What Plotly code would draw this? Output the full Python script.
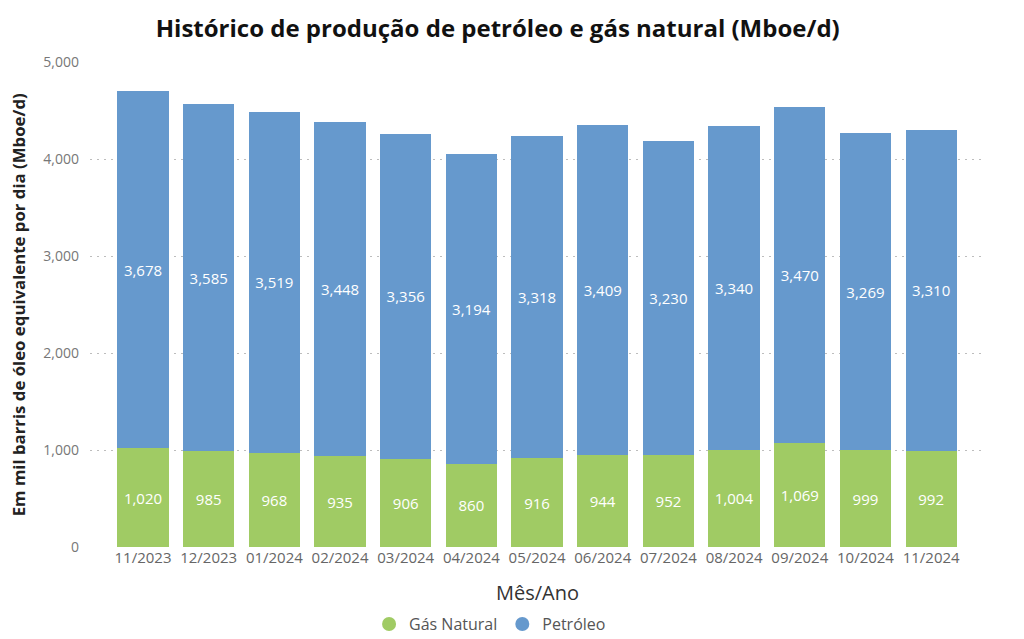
"""Histórico de produção de petróleo e gás natural (Mboe/d) — stacked bars."""
import plotly.graph_objects as go

meses = ["11/2023", "12/2023", "01/2024", "02/2024", "03/2024", "04/2024", "05/2024",
         "06/2024", "07/2024", "08/2024", "09/2024", "10/2024", "11/2024"]
gas_natural = [1020, 985, 968, 935, 906, 860, 916, 944, 952, 1004, 1069, 999, 992]
petroleo = [3678, 3585, 3519, 3448, 3356, 3194, 3318, 3409, 3230, 3340, 3470, 3269, 3310]
y_ticks = [0, 1000, 2000, 3000, 4000, 5000]

GREEN = "#A0CB64"
BLUE = "#6699CD"
FONT = "Open Sans"

fig = go.Figure()
for name, vals, color in [("Gás Natural", gas_natural, GREEN), ("Petróleo", petroleo, BLUE)]:
    fig.add_trace(go.Bar(
        x=meses, y=vals, name=name, marker_color=color, marker_line_width=0,
        width=0.78, showlegend=False,
        text=[f"{v:,}" for v in vals], textposition="inside", insidetextanchor="middle",
        textangle=0, textfont=dict(color="white", size=15, family=FONT),
    ))
    # circular legend markers
    fig.add_trace(go.Scatter(x=[None], y=[None], mode="markers", name=name,
                             marker=dict(color=color, size=14, symbol="circle")))

# page body adds an 8px offset, so the figure is drawn 8px smaller than the window
fig.update_layout(
    barmode="stack",
    width=1016, height=631,
    margin=dict(l=82, r=39, t=54, b=92, autoexpand=False),
    plot_bgcolor="white", paper_bgcolor="white",
    font=dict(family=FONT, color="#666666", size=14),
    title=dict(text="<b>Histórico de produção de petróleo e gás natural (Mboe/d)</b>",
               x=0.482, xanchor="center", y=1 - 21 / 631, yanchor="middle",
               font=dict(size=24, color="#111111", family=FONT)),
    legend=dict(orientation="h", x=0.447, xanchor="center", y=-0.159, yanchor="middle",
                font=dict(size=16, color="#555555"), itemwidth=30, traceorder="normal"),
    xaxis=dict(range=[-0.807, 12.82], showgrid=False, tickfont=dict(size=15, color="#666666"),
               ticks="", showline=False),
    yaxis=dict(range=[0, 5000], tickvals=y_ticks, tickformat=",", showgrid=True,
               gridcolor="#BDBDBD", griddash="2px,5px", zeroline=False,
               tickfont=dict(size=14, color="#777777"), ticklabelstandoff=10),
)
fig.add_annotation(text="Mês/Ano", xref="paper", yref="paper", x=0.5, y=-0.093,
                   xanchor="center", yanchor="middle", showarrow=False,
                   font=dict(size=20, color="#333333", family=FONT))
fig.add_annotation(text="<b>Em mil barris de óleo equivalente por dia (Mboe/d)</b>",
                   xref="paper", yref="paper", x=-0.0795, y=0.5, textangle=-90,
                   xanchor="center", yanchor="middle", showarrow=False,
                   font=dict(size=16.8, color="#222222", family=FONT))

fig.write_html("out.html")
